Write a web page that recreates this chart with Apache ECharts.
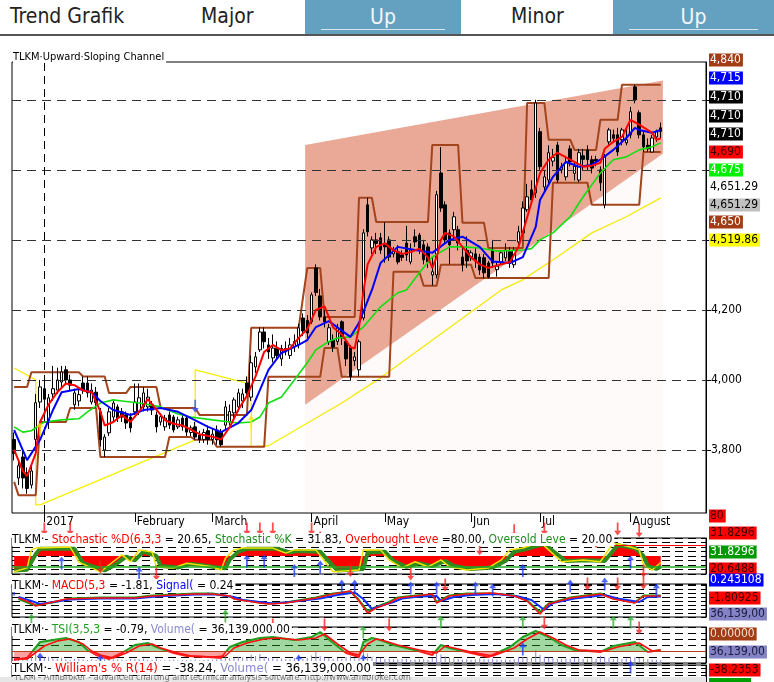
<!DOCTYPE html>
<html>
<head>
<meta charset="utf-8">
<script src="https://cdn.jsdelivr.net/npm/echarts@6/dist/echarts.min.js"></script>
<style>
  body { margin: 0; background: #fff; }
  #wrap { position: relative; width: 774px; height: 682px; overflow: hidden; }
  #chart { position: absolute; left: 0; top: 0; width: 774px; height: 682px; }
  #hdr { position: absolute; left: 0; top: 0; width: 774px; height: 34px; background: #fff;
         border-bottom: 2px solid #555; z-index: 2;
         font-family: 'Liberation Sans Narrow', 'DejaVu Sans Condensed', 'Liberation Sans', sans-serif; }
  #hdr .t { position: absolute; top: 4px; font-size: 21px; color: #222; }
  #hdr .box { position: absolute; top: 0; height: 34px; background: #64a1c0; color: #f2f7fa;
              text-align: center; font-size: 21px; line-height: 34px; }
  #hdr .box i { position: absolute; left: 16px; right: 16px; bottom: 4px; height: 1px; background: #d6e6ee; }
</style>
</head>
<body>
<div id="wrap">
  <div id="chart"></div>
  <div id="hdr">
    <div class="t" style="left:10px">Trend Grafik</div>
    <div class="t" style="left:201px">Major</div>
    <div class="box" style="left:305px;width:156px">Up<i></i></div>
    <div class="t" style="left:511px">Minor</div>
    <div class="box" style="left:613px;width:161px">Up<i></i></div>
  </div>
</div>
<script>
'use strict';

// ---------- data ----------
var opens = [3830,3720,3780,3735,3700,3830,3937,3975,3880,3960,
  3971,3994,4029,4000,3929,3940,3991,3991,3937,3965,
  3909,3800,3849,3894,3923,3909,3900,3894,3909,3909,
  3923,3923,3929,3900,3880,3866,3900,3894,3866,3891,
  3891,3850,3866,3842,3830,3855,3830,3857,3851,3871,
  3880,3906,3923,3940,3991,3951,4037,4086,4137,4100,
  4063,4090,4060,4090,4070,4095,4100,4177,4170,4166,
  4320,4240,4180,4109,4114,4110,4166,4110,4094,4055,
  4029,4177,4500,4377,4400,4406,4390,4400,4360,4366,
  4357,4391,4337,4409,4414,4386,4380,4300,4300,4591,
  4500,4420,4429,4429,4351,4370,4351,4360,4351,4349,
  4334,4371,4315,4337,4349,4366,4329,4394,4420,4486,
  4543,4534,4709,4551,4571,4625,4671,4600,4580,4660,
  4590,4571,4640,4657,4629,4630,4600,4500,4680,4700,
  4700,4686,4677,4700,4837,4763,4700,4670,4651,4694,
  4720];
var closes = [3790,3755,3720,3690,3740,3935,3980,3945,3949,3975,
  4000,4023,4000,3985,3963,3958,3971,3963,3971,3935,
  3829,3837,3909,3934,3891,3894,3877,3863,3937,3949,
  3963,3951,3914,3866,3895,3891,3871,3857,3886,3866,
  3851,3863,3837,3830,3850,3830,3845,3829,3815,3923,
  3910,3943,3963,3960,3963,4049,4066,4137,4109,4080,
  4091,4070,4090,4080,4100,4110,4149,4140,4134,4243,
  4250,4180,4166,4149,4094,4150,4120,4060,4009,4066,
  4109,4420,4423,4400,4390,4371,4380,4351,4370,4337,
  4350,4357,4371,4394,4371,4343,4337,4309,4529,4491,
  4400,4386,4466,4391,4329,4340,4363,4340,4314,4306,
  4294,4334,4325,4363,4371,4334,4371,4423,4491,4523,
  4514,4791,4609,4580,4649,4635,4571,4609,4620,4623,
  4610,4649,4630,4629,4605,4625,4563,4637,4714,4690,
  4651,4714,4686,4766,4800,4700,4666,4660,4691,4709,
  4710];
var lows = [3770,3700,3690,3675,3690,3800,3920,3900,3860,3940,
  3960,3980,3990,3970,3915,3925,3960,3950,3930,3920,
  3810,3780,3840,3880,3880,3880,3860,3850,3900,3900,
  3910,3910,3900,3850,3870,3855,3860,3850,3860,3855,
  3840,3840,3830,3820,3820,3815,3815,3815,3810,3860,
  3870,3890,3910,3920,3950,3940,4020,4080,4090,4060,
  4050,4060,4040,4070,4060,4080,4090,4125,4120,4160,
  4240,4170,4150,4100,4080,4100,4100,4040,4000,4040,
  4010,4170,4410,4360,4360,4360,4335,4340,4350,4330,
  4340,4340,4330,4380,4360,4330,4320,4270,4290,4480,
  4390,4330,4400,4370,4310,4320,4340,4320,4300,4290,
  4290,4320,4295,4330,4340,4320,4320,4380,4410,4480,
  4500,4520,4600,4540,4560,4610,4563,4590,4570,4610,
  4570,4565,4600,4600,4590,4610,4540,4490,4670,4680,
  4640,4670,4670,4690,4790,4690,4651,4651,4651,4680,
  4690];
var highs = [3850,3770,3800,3750,3760,3960,4000,4010,3960,4040,
  4035,4040,4040,4015,3975,3975,4010,4010,3990,3980,
  3920,3845,3920,3945,3930,3920,3910,3905,3990,3990,
  3980,3975,3940,3910,3905,3900,3910,3900,3895,3900,
  3900,3870,3880,3855,3860,3870,3860,3870,3860,3940,
  3930,3950,3975,3975,4010,4070,4080,4150,4150,4120,
  4130,4110,4100,4110,4120,4130,4160,4190,4185,4250,
  4330,4260,4200,4160,4130,4160,4170,4120,4100,4080,
  4115,4430,4520,4410,4420,4420,4450,4410,4380,4385,
  4370,4440,4390,4430,4420,4400,4390,4350,4540,4665,
  4510,4430,4480,4440,4380,4410,4370,4380,4360,4360,
  4340,4400,4335,4370,4390,4380,4380,4440,4510,4560,
  4570,4800,4720,4600,4670,4660,4680,4620,4640,4670,
  4620,4660,4660,4670,4640,4640,4610,4645,4720,4715,
  4720,4720,4720,4780,4843,4770,4710,4690,4700,4715,
  4735];
var volumes = [52,61,70,58,95,120,88,64,72,55,
  49,60,43,38,47,51,40,36,44,39,
  82,76,58,45,41,38,35,50,47,43,
  52,39,37,55,33,31,36,42,30,38,
  35,33,41,29,34,40,37,45,52,68,
  58,61,74,66,59,95,83,104,72,60,
  55,48,52,44,47,58,61,50,57,88,
  132,79,62,55,47,58,49,71,80,54,
  67,155,110,72,56,61,47,52,44,40,
  48,51,39,42,46,44,39,58,121,98,
  77,62,55,49,41,45,38,44,52,47,
  43,49,40,37,42,39,45,66,74,69,
  58,148,96,72,63,55,51,47,53,49,
  58,55,47,44,57,51,85,70,61,48,
  55,47,52,74,66,58,49,44,40,38,
  36];

// moving averages and bands as [bar, price] points
var maRed = [[0,3800],[2,3740],[3,3725],[5,3790],[6,3880],[8,3930],[10,3965],[12,3990],[14,3985],[16,3970],
  [18,3965],[20,3910],[21,3870],[23,3880],[25,3900],[27,3880],[29,3910],[31,3945],[33,3915],[35,3885],
  [37,3875],[39,3870],[41,3858],[43,3845],[46,3838],[48,3830],[50,3865],[52,3915],[54,3955],[56,4010],
  [58,4080],[60,4100],[62,4085],[64,4090],[66,4120],[68,4145],[70,4200],[72,4210],[74,4150],[76,4130],
  [78,4094],[79,4090],[80,4150],[81,4250],[82,4330],[84,4380],[86,4390],[88,4370],[90,4360],[92,4365],
  [94,4375],[96,4350],[97,4320],[98,4350],[99,4400],[100,4420],[102,4410],[104,4380],[106,4350],[108,4330],
  [110,4320],[113,4330],[115,4337],[117,4380],[120,4506],[122,4591],[124,4629],[126,4649],[129,4629],[132,4609],
  [134,4612],[136,4620],[137,4660],[139,4680],[141,4694],[143,4743],[145,4729],[148,4706],[149,4686],[150,4690]];
var maBlue = [[0,3857],[3,3771],[6,3829],[9,3914],[11,3965],[15,3974],[18,3965],[20,3940],[23,3914],[27,3900],
  [30,3914],[34,3920],[38,3909],[41,3891],[45,3866],[48,3851],[52,3877],[55,3914],[57,3971],[59,4029],
  [62,4077],[66,4100],[68,4114],[70,4151],[73,4168],[78,4123],[80,4163],[83,4257],[85,4334],[89,4380],
  [93,4371],[97,4363],[101,4400],[104,4409],[108,4380],[111,4338],[115,4334],[118,4351],[121,4437],[122,4514],
  [125,4580],[128,4623],[131,4609],[134,4614],[136,4629],[139,4657],[142,4691],[144,4720],[145,4714],[148,4706],
  [150,4714]];
var maGreen = [[0,3866],[2,3851],[4,3855],[7,3880],[11,3886],[15,3889],[17,3909],[20,3934],[23,3943],[25,3940],
  [29,3934],[34,3923],[38,3903],[41,3894],[46,3886],[52,3877],[55,3880],[57,3894],[59,3934],[62,3951],
  [65,4000],[68,4049],[70,4086],[73,4110],[75,4120],[78,4123],[81,4151],[85,4209],[89,4249],[91,4257],
  [94,4306],[97,4351],[101,4380],[104,4380],[108,4377],[112,4368],[118,4371],[120,4375],[122,4400],[125,4420],
  [129,4466],[132,4523],[136,4591],[139,4629],[142,4637],[145,4657],[148,4666],[150,4677]];
var maYellow = [[0,4034],[5,4000],[5,3643],[6,3643],[42,3829],[42,4029],[54,3991],[55,3991],[55,3809],[59,3812],
  [76,3934],[85,4006],[113,4257],[118,4286],[126,4351],[134,4420],[142,4466],[150,4520]];
var bandUpper = [[0,3980],[3,3980],[4,4022],[15,4022],[16,4010],[21,4010],[22,3963],[26,3963],[27,3980],[33,3980],
  [34,3920],[42,3920],[43,3900],[54,3900],[55,4149],[66,4149],[68,4320],[71,4320],[72,4180],[79,4180],
  [80,4520],[83,4520],[84,4451],[96,4451],[97,4671],[103,4671],[104,4449],[109,4449],[110,4377],[118,4377],
  [119,4791],[123,4791],[124,4686],[129,4686],[130,4657],[135,4657],[136,4743],[140,4743],[141,4843],[150,4843]];
var bandLower = [[0,3709],[1,3671],[5,3671],[6,3880],[12,3880],[13,3920],[19,3920],[20,3780],[35,3780],[36,3837],
  [41,3837],[42,3829],[46,3829],[47,3809],[58,3809],[59,4009],[71,4009],[72,4091],[75,4091],[76,4009],
  [87,4009],[88,4309],[94,4309],[95,4269],[98,4269],[99,4329],[106,4329],[107,4291],[124,4291],[125,4563],
  [133,4563],[134,4500],[145,4500],[146,4651],[150,4651]];
// upward sloping channel: [bar, upper, lower] at both ends
var channelStart = [68, 4671, 3929];
var channelEnd = [150, 4855, 4646];

var mainUpArrows = [[6,3860],[55,3880]];
var mainDownArrows = [[42,3925]];

// stochastic
var stochK = [[0,6],[3,17],[4,67],[5,72],[13,75],[15,33],[20,6],[22,25],[25,53],[27,34],[29,67],[32,61],[33,20],
  [37,17],[40,30],[43,25],[46,20],[48,11],[49,44],[51,67],[53,72],[60,72],[63,58],[65,67],[70,67],[73,20],
  [74,6],[80,11],[81,67],[85,67],[87,39],[90,17],[93,34],[96,20],[99,39],[101,20],[105,11],[110,17],[113,39],
  [115,67],[118,72],[122,89],[124,67],[127,34],[132,39],[136,34],[139,86],[143,75],[145,67],[146,25],[148,11],[150,32]];
var stochD = [[0,10],[3,12],[5,55],[6,70],[14,70],[16,30],[21,10],[23,22],[26,48],[28,38],[30,62],[33,50],[34,22],
  [38,18],[41,28],[44,24],[47,18],[49,16],[50,40],[52,62],[54,70],[61,70],[64,60],[66,64],[71,62],[74,22],
  [75,10],[81,14],[82,60],[86,62],[88,36],[91,20],[94,30],[97,22],[100,36],[102,22],[106,14],[111,18],[114,36],
  [116,62],[119,70],[123,84],[125,64],[128,36],[133,38],[137,36],[140,80],[144,72],[146,50],[147,22],[149,14],[150,21]];
var stochLevels = [80, 20];
var stochDownArrows = [[7,125],[13,125],[54,125],[57,125],[60,125],[69,125],[71,100],[20,20],[33,0],[78,10],
  [92,0],[108,70],[116,120],[123,125],[135,90],[140,125],[145,120],[146,8]];
var stochUpArrows = [[11,30],[29,2],[54,36],[58,36],[65,10],[71,20],[118,10],[143,33]];

// MACD
var macdLine = [[1,6],[4,-4],[5,-10],[8,-4],[12,4],[20,6],[28,6],[32,10],[42,14],[46,14],[50,10],[51,4],[57,-4],
  [59,-6],[63,-4],[70,6],[74,14],[78,20],[80,0],[82,-24],[84,-14],[87,-4],[89,6],[93,10],[97,14],[98,-4],[101,10],
  [105,14],[111,16],[116,10],[119,0],[122,-26],[124,-6],[129,6],[136,14],[139,4],[144,-4],[146,10],[150,10]];
var macdSignal = [[1,8],[4,0],[6,-6],[9,-2],[13,3],[20,5],[28,5],[33,9],[42,13],[47,13],[51,8],[53,2],[58,-3],
  [60,-5],[64,-2],[71,5],[75,12],[79,17],[81,4],[83,-16],[85,-10],[88,-2],[90,5],[94,9],[98,10],[99,0],[102,8],
  [106,12],[112,14],[117,9],[120,2],[123,-18],[125,-4],[130,5],[137,12],[140,5],[145,-2],[147,8],[150,9]];
var macdHist = [[1,4],[4,-6],[5,-8],[9,-3],[13,5],[20,7],[28,7],[32,11],[42,15],[46,15],[50,9],[52,3],[57,-3],
  [59,-5],[63,-3],[70,7],[74,15],[78,19],[80,2],[82,-20],[84,-12],[87,-2],[89,7],[93,11],[97,13],[98,-2],[101,11],
  [105,15],[111,15],[116,11],[119,1],[122,-22],[124,-5],[129,7],[136,15],[139,5],[144,-3],[146,11],[150,11]];
var macdUpArrows = [[0,24],[45,30],[49,30],[76,30],[79,30],[92,26],[98,26],[107,26],[111,22],[129,30],[137,34],[149,22]];
var macdDownArrows = [[100,32],[133,34],[140,34],[146,36],[123,-44]];
var macdGreenArrows = [[4,-38],[49,-30],[99,-42],[118,-42],[139,-42],[143,-42]];

// TSI
var tsiLine = [[0,-9],[3,-7],[6,9],[9,11],[12,13],[15,9],[17,1],[19,-4],[22,-8],[25,-2],[28,6],[31,8],[33,4],
  [37,-2],[40,-5],[45,-6],[48,-7],[50,4],[53,9],[57,13],[60,14],[65,11],[69,14],[71,19],[74,8],[77,-2],[80,-6],
  [81,9],[83,13],[85,11],[88,6],[93,1],[97,-4],[99,6],[101,3],[105,-1],[110,-6],[115,4],[118,14],[121,20],
  [124,14],[127,6],[130,1],[136,-1],[139,5],[144,9],[147,-1],[150,1]];
var tsiSignal = [[0,-8],[3,-8],[7,5],[10,10],[13,12],[16,7],[18,0],[20,-4],[23,-7],[26,-2],[29,5],[32,7],[34,3],
  [38,-2],[41,-5],[46,-6],[49,-5],[51,3],[54,8],[58,12],[61,13],[66,11],[70,13],[72,17],[75,7],[78,-2],[80,-4],
  [82,7],[84,12],[86,10],[89,6],[94,1],[98,-2],[100,5],[102,3],[106,-1],[111,-5],[116,3],[119,12],[122,19],
  [125,13],[128,6],[131,1],[137,0],[140,4],[145,8],[148,0],[150,1]];
var tsiDownArrows = [[60,26],[72,26],[87,26],[145,23]];
var tsiGreenArrows = [[81,19]];
var tsiBlueArrows = [[6,-8],[20,-10],[66,-10],[81,-10],[118,2],[143,-16]];

// axes
var barCount = 161;
var monthStarts = [7, 28, 46, 69, 86, 106, 122, 143];
var monthLabels = ['2017', 'February', 'March', 'April', 'May', 'Jun', 'Jul', 'August'];
var priceGrid = [3800, 4000, 4200, 4400, 4600, 4800];
var priceLabels = [3800, 4000, 4200];
var tsiRange = [-12, 24];

// value tags on the right edge: [text, background, colour]
var mainTags = [['4,840','#a23c14','#fff'],['4,715','#0000ff','#fff'],['4,710','#000','#fff'],['4,710','#000','#fff'],
  ['4,710','#000','#fff'],['4,690','#ff0000','#3a0000'],['4,675','#00ee00','#fff'],['4,651.29',null,'#000'],
  ['4,651.29','#c0c0c0','#000'],['4,650','#a23c14','#fff'],['4,519.86','#ffff00','#000']];
var panelTags = [['80','#ff0000','#3a0000'],['31.8296','#ff0000','#3a0000'],['31.8296','#009a00','#fff'],
  ['20.6488','#ff0000','#3a0000'],['0.243108','#0000ff','#fff'],['-1.80925','#ff0000','#3a0000'],
  ['36,139,00','#8282c4','#1c1c40'],['0.00000','#a23c14','#f4e0d0'],['36,139,00','#8282c4','#1c1c40'],
  ['-38.2353','#ff0000','#3a0000']];

// ---------- chart ----------
var FONT = "'Liberation Sans Narrow', 'DejaVu Sans Condensed', 'Liberation Sans', sans-serif";
var ARROW = 'path://M4,0L8,5L5,5L5,14L3,14L3,5L0,5Z';

var categories = [];
for (var i = 0; i < barCount; i++) categories.push(String(i));

var candles = opens.map(function (o, k) { return [o, closes[k], lows[k], highs[k]]; });

function isMonthStart(idx) { return monthStarts.indexOf(idx) >= 0; }

function lineSeries(data, color, width, xi, z) {
  return { type: 'line', data: data, xAxisIndex: xi, yAxisIndex: xi, showSymbol: false, symbol: 'none',
           lineStyle: { color: color, width: width }, z: z, silent: true };
}

function arrows(data, color, down, xi, yi) {
  return { type: 'scatter', data: data, xAxisIndex: xi, yAxisIndex: yi, symbol: ARROW, symbolSize: [7, 13],
           symbolRotate: down ? 180 : 0, itemStyle: { color: color }, clip: false, z: 20, silent: true };
}

function renderChannel(params, api) {
  var half = api.size([1, 0])[0] / 2;
  var a = api.coord([api.value(0), api.value(1)]);
  var b = api.coord([api.value(3), api.value(4)]);
  var c = api.coord([api.value(3), api.value(5)]);
  var d = api.coord([api.value(0), api.value(2)]);
  var bottom = params.coordSys.y + params.coordSys.height;
  return {
    type: 'group',
    children: [{
      type: 'polygon',
      shape: { points: [[d[0] - half, d[1]], [c[0] + half, c[1]], [c[0] + half, bottom], [d[0] - half, bottom]] },
      style: { fill: 'rgba(236,170,152,0.06)' }
    }, {
      type: 'polygon',
      shape: { points: [[a[0] - half, a[1]], [b[0] + half, b[1]], [c[0] + half, c[1]], [d[0] - half, d[1]]] },
      style: { fill: '#eaa897' }
    }]
  };
}

function richText(parts, size) {
  var rich = {};
  var text = parts.map(function (p, k) {
    rich['c' + k] = { fill: p[1], color: p[1], fontSize: size, fontFamily: FONT };
    return '{c' + k + '|' + p[0] + '}';
  }).join('');
  return { text: text, rich: rich };
}

var graphics = [];
function addTitle(parts, x, y, size) {
  var rt = richText(parts, size);
  graphics.push({ type: 'text', x: x, y: y, z: 100,
    style: { text: rt.text, rich: rt.rich, backgroundColor: '#fff', padding: [1, 2, 0, 0],
             fontSize: size, fontFamily: FONT } });
}
addTitle([['TLKM\u00b7Upward\u00b7Sloping Channel', '#000']], 13, 51, 11);
addTitle([['TLKM\u00b7- ', '#000'], ['Stochastic %D(6,3,3', '#ff0000'], [' = 20.65, ', '#000'],
  ['Stochastic %K', '#1f8f1f'], [' = 31.83, ', '#000'], ['Overbought Leve', '#ff0000'], [' =80.00, ', '#000'],
  ['Oversold Leve', '#1f8f1f'], [' = 20.00', '#000']], 12, 533, 12);
addTitle([['TLKM\u00b7- ', '#000'], ['MACD(5,3', '#ff0000'], [' = -1.81, ', '#000'], ['Signal(', '#0000ff'],
  [' = 0.24', '#000']], 12, 579, 12);
addTitle([['TLKM\u00b7- ', '#000'], ['TSI(3,5,3', '#1f9f1f'], [' = -0.79, ', '#000'], ['Volume(', '#8a8ad0'],
  [' = 36,139,000.00', '#000']], 12, 623, 12);
graphics.push({ type: 'rect', z: 90, shape: { x: 0, y: 677, width: 706, height: 6 }, style: { fill: '#e6e6e6' } });
graphics.push({ type: 'text', x: 14, y: 673, z: 95,
  style: { text: 'TLKM - AmiBroker - advanced charting and technical analysis software. http://www.amibroker.com',
           fill: '#777', fontSize: 9, fontFamily: FONT } });
addTitle([['TLKM\u00b7- ', '#000'], ["William's % R(14)", '#ff0000'], [' = -38.24, ', '#000'], ['Volume(', '#8a8ad0'],
  [' = 36,139,000.00', '#000']], 12, 661, 13);

function addTags(tags, ys) {
  tags.forEach(function (t, k) {
    graphics.push({ type: 'text', x: 709, y: ys[k], z: 100,
      style: { text: t[0], fill: t[2], backgroundColor: t[1] || 'transparent', padding: [1, 2, 0, 1],
               fontSize: 12, fontFamily: FONT, verticalAlign: 'middle' } });
  });
}
addTags(mainTags, [60, 78, 97, 116, 134, 152, 170, 187, 205, 222, 240]);
addTags(panelTags, [516, 533, 552, 569, 580, 598, 614, 634, 652, 670]);
graphics.push({ type: 'rect', z: 99, shape: { x: 709, y: 678, width: 42, height: 4 }, style: { fill: '#00a000' } });

var dash = { color: '#000', type: [8, 5], width: 1 };
var grids = [
  { top: 62, height: 451 }, { top: 538, height: 36 }, { top: 584, height: 33 }, { top: 627, height: 36 },
  { top: 665, height: 40 }
].map(function (g) {
  return { left: 12, right: 68, top: g.top, height: g.height, show: true, borderColor: '#000', borderWidth: 1,
           backgroundColor: 'transparent' };
});
function subX(gi) {
  return { type: 'category', gridIndex: gi, data: categories, boundaryGap: true, show: false };
}
function subY(gi, min, max, interval, showSplit) {
  return { type: 'value', gridIndex: gi, position: 'right', min: min, max: max, interval: interval,
           axisLine: { show: true, lineStyle: { color: '#000' } }, axisTick: { show: false },
           axisLabel: { show: false }, splitLine: { show: showSplit, lineStyle: dash } };
}

// TSI colouring: green above zero, red below (split where zero falls in the panel)
var tsiZero = tsiRange[1] / (tsiRange[1] - tsiRange[0]);
var tsiTop = grids[3].top, tsiBottom = grids[3].top + grids[3].height;
function tsiGradient(alpha) {
  var g = 'rgba(31,160,31,' + alpha + ')', r = 'rgba(255,32,32,' + alpha + ')';
  return new echarts.graphic.LinearGradient(0, tsiTop, 0, tsiBottom, [
    { offset: 0, color: g }, { offset: tsiZero, color: g },
    { offset: tsiZero, color: r }, { offset: 1, color: r }], true);
}

var series = [];
// main panel
series.push({
  type: 'line', name: 'ma-long', data: maYellow, xAxisIndex: 0, yAxisIndex: 0, showSymbol: false, symbol: 'none',
  lineStyle: { color: '#f5ef00', width: 1.3 }, z: 1, silent: true,
  markLine: { silent: true, symbol: 'none', label: { show: false },
    lineStyle: { color: '#333', type: [9, 6], width: 1 },
    data: priceGrid.map(function (v) { return { yAxis: v }; })
      .concat([{ xAxis: String(monthStarts[0]), lineStyle: { color: '#000', type: [8, 5], width: 1 } }]) }
});
series.push({
  type: 'custom', name: 'channel', xAxisIndex: 0, yAxisIndex: 0, z: 2, silent: true,
  renderItem: renderChannel, encode: { x: [0, 3], y: [1, 2, 4, 5] },
  data: [channelStart.concat(channelEnd)]
});
series.push(lineSeries(bandUpper, '#a2441c', 2, 0, 3));
series.push(lineSeries(bandLower, '#a2441c', 2, 0, 3));
series.push({
  type: 'candlestick', data: candles, xAxisIndex: 0, yAxisIndex: 0, barWidth: 3, z: 4, silent: true,
  itemStyle: { color: '#fff', color0: '#000', borderColor: '#000', borderColor0: '#000', borderWidth: 1 }
});
series.push(lineSeries(maGreen, '#10e010', 1.6, 0, 5));
series.push(lineSeries(maBlue, '#0000ff', 2, 0, 5));
series.push(lineSeries(maRed, '#ff0000', 2, 0, 5));
series.push(arrows(mainUpArrows, '#f5ef00', false, 0, 0));
series.push(arrows(mainDownArrows, '#3050ff', true, 0, 0));

// stochastic panel
series.push({
  type: 'line', data: stochD, xAxisIndex: 1, yAxisIndex: 1, showSymbol: false, symbol: 'none', z: 3, silent: true,
  lineStyle: { color: '#2f8a1f', width: 4 }, areaStyle: { color: '#ff0000', opacity: 1, origin: 50 }
});
series.push({
  type: 'line', data: stochK, xAxisIndex: 1, yAxisIndex: 1, showSymbol: false, symbol: 'none', z: 4, silent: true,
  lineStyle: { color: '#f2e200', width: 1.5 },
  markLine: { silent: true, symbol: 'none', label: { show: false },
    data: [{ yAxis: stochLevels[0], lineStyle: { color: '#ff0000', type: 'solid', width: 1 } },
           { yAxis: stochLevels[1], lineStyle: { color: '#22aa22', type: 'solid', width: 1.5 } }] }
});
series.push(arrows(stochDownArrows, '#ff2020', true, 1, 1));
series.push(arrows(stochUpArrows, '#2040ff', false, 1, 1));

// MACD panel
series.push(lineSeries(macdHist, '#10a010', 2, 2, 3));
series.push(lineSeries(macdSignal, '#1030ff', 2, 2, 4));
series.push(lineSeries(macdLine, '#ff1010', 1.6, 2, 5));
series.push(arrows(macdUpArrows, '#2040ff', false, 2, 2));
series.push(arrows(macdDownArrows, '#ff2020', true, 2, 2));
series.push(arrows(macdGreenArrows, '#30b030', false, 2, 2));

// TSI panel
series.push({
  type: 'bar', data: volumes, xAxisIndex: 3, yAxisIndex: 4, barWidth: 1, z: 2, silent: true,
  itemStyle: { color: '#8888cc' }
});
series.push({
  type: 'line', data: tsiLine, xAxisIndex: 3, yAxisIndex: 3, showSymbol: false, symbol: 'none', z: 4, silent: true,
  lineStyle: { width: 2, color: tsiGradient(1) }, areaStyle: { color: tsiGradient(0.6), origin: 0 },
  markLine: { silent: true, symbol: 'none', label: { show: false },
    data: [{ yAxis: 0, lineStyle: { color: '#b8401c', type: 'solid', width: 1 } }] }
});
series.push(lineSeries(tsiSignal, '#ff1010', 1.6, 3, 5));
series.push(arrows(tsiDownArrows, '#ff2020', true, 3, 3));
series.push(arrows(tsiGreenArrows, '#30b030', false, 3, 3));
series.push(arrows(tsiBlueArrows, '#2040ff', false, 3, 3));

var option = {
  animation: false,
  backgroundColor: '#fff',
  textStyle: { fontFamily: FONT },
  grid: grids,
  xAxis: [{
    type: 'category', gridIndex: 0, data: categories, boundaryGap: true,
    axisLine: { show: false },
    axisTick: { show: true, alignWithLabel: true, length: 9, interval: isMonthStart, lineStyle: { color: '#000' } },
    axisLabel: { interval: isMonthStart, align: 'left', margin: 3, padding: [0, 0, 0, 2], fontSize: 12,
      fontFamily: FONT, color: '#000',
      formatter: function (v) { var k = monthStarts.indexOf(+v); return k >= 0 ? monthLabels[k] : ''; } },
    splitLine: { show: false }
  }, subX(1), subX(2), subX(3), subX(4)],
  yAxis: [{
    type: 'value', gridIndex: 0, position: 'right', min: 3620, max: 4908,
    axisLine: { show: true, lineStyle: { color: '#000' } },
    axisTick: { show: true, customValues: priceGrid, length: 5, lineStyle: { color: '#000' } },
    axisLabel: { customValues: priceLabels, fontSize: 12, fontFamily: FONT, color: '#000', margin: 5,
      formatter: function (v) { return v.toLocaleString('en-US'); } },
    splitLine: { show: false }
  },
    subY(1, 0, 100, 12.5, true),
    subY(2, -32, 34, 8, true),
    subY(3, tsiRange[0], tsiRange[1], 6, true),
    { type: 'value', gridIndex: 3, min: 0, max: 420, show: false, splitLine: { show: false } },
    subY(4, 0, 100, 20, true)
  ],
  graphic: graphics,
  series: series
};

var myChart = echarts.init(document.getElementById('chart'));
myChart.setOption(option);
</script>
</body>
</html>
